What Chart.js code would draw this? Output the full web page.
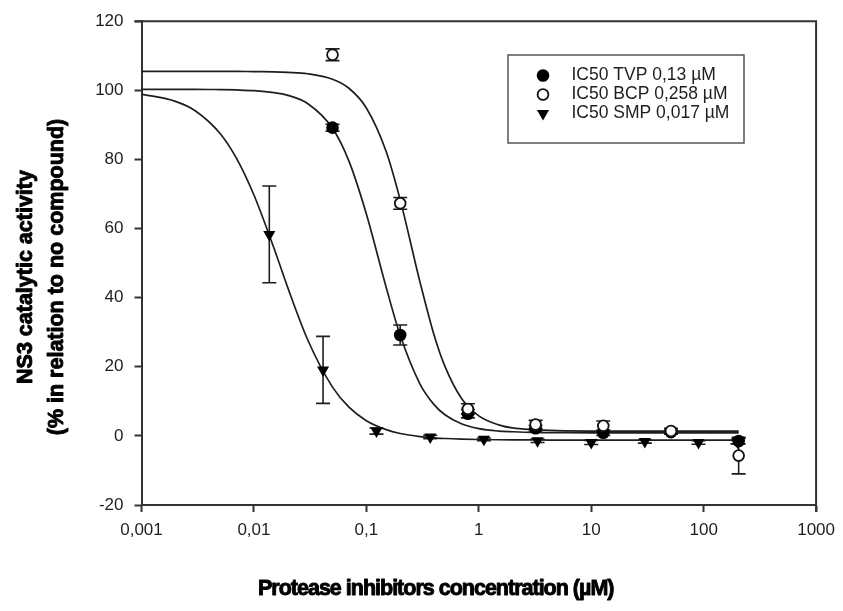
<!DOCTYPE html>
<html><head><meta charset="utf-8">
<script src="https://cdn.jsdelivr.net/npm/chart.js@4.4.0/dist/chart.umd.min.js"></script>
<style>html,body{margin:0;padding:0;background:#fff;}#wrap{width:843px;height:611px;position:relative;}</style>
</head><body><div id="wrap"><canvas id="c" width="843" height="611"></canvas></div>
<script>
// ---- data ----
const legendLabels = ['IC50 TVP 0,13 µM', 'IC50 BCP 0,258 µM', 'IC50 SMP 0,017 µM'];
const xTickValues = [0.001, 0.01, 0.1, 1, 10, 100, 1000];
const xTickLabels = ['0,001', '0,01', '0,1', '1', '10', '100', '1000'];
const xTitle = 'Protease inhibitors concentration (µM)';
const yTitle = ['NS3 catalytic activity', '(% in relation to no compound)'];

// measured points (concentration µM, % activity, error)
const tvpX   = [0.05, 0.2, 0.8, 3.2, 12.8, 51.2, 204.8];
const tvpY   = [89.2, 29.2, 6.4, 2.2, 0.9, 1.1, -1.5];
const tvpErr = [1.0, 2.9, 1.2, 0.8, 0.8, 0.6, 0.8];

const bcpX   = [0.05, 0.2, 0.8, 3.2, 12.8, 51.2, 204.8];
const bcpY   = [110.3, 67.3, 7.8, 3.3, 2.9, 1.4, -5.7];
const bcpErr = [1.7, 1.7, 1.5, 1.2, 1.4, 0.8, 5.3];

const smpX   = [0.0137, 0.0412, 0.123, 0.37, 1.11, 3.33, 10, 30, 90, 200];
const smpY   = [58.3, 19.1, 1.4, -0.3, -1.0, -1.4, -1.9, -1.6, -1.9, -1.8];
const smpErr = [14.0, 9.7, 0.9, 0.5, 0.4, 0.5, 0.6, 0.5, 0.5, 0.5];

// fitted curves
const curveX   = [0.001, 0.002, 0.003, 0.005, 0.007, 0.01, 0.015, 0.02, 0.03, 0.05, 0.07, 0.1, 0.15, 0.2, 0.3, 0.4, 0.5, 0.7, 1, 1.5, 2, 3, 5, 10, 20, 50, 100, 205];
const tvpCurve = [100.3, 100.3, 100.3, 100.2, 100.1, 99.9, 99.35, 98.55, 96.2, 89.0, 79.5, 64.2, 43.0, 29.1, 15.0, 9.05, 6.1, 3.5, 2.1, 1.4, 1.2, 1.0, 0.95, 0.9, 0.9, 0.9, 0.9, 0.9];
const bcpCurve = [105.5, 105.5, 105.5, 105.5, 105.5, 105.4, 105.35, 105.2, 104.8, 103.2, 100.6, 94.9, 82.3, 68.3, 44.5, 29.2, 20.1, 10.9, 5.8, 3.2, 2.3, 1.8, 1.5, 1.4, 1.4, 1.4, 1.4, 1.4];
const smpCurve = [98.9, 96.8, 94.1, 87.5, 80.3, 69.7, 54.5, 42.9, 27.9, 14.1, 8.3, 4.4, 1.8, 0.7, -0.2, -0.55, -0.75, -0.94, -1.05, -1.12, -1.15, -1.18, -1.2, -1.2, -1.2, -1.2, -1.2, -1.2];

// ---- chart ----
const pts = (xs, ys) => xs.map((x, i) => ({x: x, y: ys[i]}));
const INK = '#1e1e1e';
const AXIS = '#333';

const errorBars = {
  id: 'errorBars',
  beforeDatasetsDraw(chart) {
    const ctx = chart.ctx, xs = chart.scales.x, ys = chart.scales.y;
    ctx.save();
    ctx.strokeStyle = INK; ctx.lineWidth = 1.6;
    chart.data.datasets.forEach(ds => {
      if (!ds.errors) return;
      ds.data.forEach((p, i) => {
        const e = ds.errors[i];
        const px = xs.getPixelForValue(p.x);
        const y1 = ys.getPixelForValue(p.y + e), y2 = ys.getPixelForValue(p.y - e);
        ctx.beginPath();
        ctx.moveTo(px, y1); ctx.lineTo(px, y2);
        ctx.moveTo(px - 7, y1); ctx.lineTo(px + 7, y1);
        ctx.moveTo(px - 7, y2); ctx.lineTo(px + 7, y2);
        ctx.stroke();
      });
    });
    ctx.restore();
  }
};

function marker(ctx, style, x, y) {
  ctx.beginPath();
  if (style === 'filled') { ctx.arc(x, y, 6.3, 0, Math.PI * 2); ctx.fillStyle = '#000'; ctx.fill(); }
  else if (style === 'open') { ctx.arc(x, y, 5.4, 0, Math.PI * 2); ctx.fillStyle = '#fff'; ctx.fill(); ctx.lineWidth = 1.8; ctx.strokeStyle = '#111'; ctx.stroke(); }
  else { const r = 7; ctx.moveTo(x - r * 0.866, y - r * 0.5); ctx.lineTo(x + r * 0.866, y - r * 0.5); ctx.lineTo(x, y + r); ctx.closePath(); ctx.fillStyle = '#000'; ctx.fill(); }
}

function heavyText(ctx, t, x, y) {
  ctx.fillText(t, x, y);
  ctx.strokeText(t, x, y);
}

const decor = {
  id: 'decor',
  afterDraw(chart) {
    const ctx = chart.ctx, a = chart.chartArea;
    ctx.save();
    // frame top / right
    ctx.strokeStyle = AXIS; ctx.lineWidth = 2;
    ctx.beginPath();
    ctx.moveTo(a.left - 7, a.top); ctx.lineTo(a.right, a.top); ctx.lineTo(a.right, a.bottom + 7);
    ctx.stroke();
    // legend box
    const bx = 508, by = 55, bw = 236, bh = 88;
    ctx.fillStyle = '#fff'; ctx.fillRect(bx, by, bw, bh);
    ctx.lineWidth = 1.5; ctx.strokeStyle = '#555'; ctx.strokeRect(bx, by, bw, bh);
    const styles = ['filled', 'open', 'tri'];
    ctx.font = '17.5px "Liberation Sans", Arial, sans-serif';
    ctx.textBaseline = 'middle'; ctx.textAlign = 'left';
    legendLabels.forEach((t, i) => {
      const ry = 75.5 + i * 19;
      marker(ctx, styles[i], 543, ry);
      ctx.fillStyle = INK; ctx.fillText(t, 571.5, ry);
    });
    // axis titles (heavy bold)
    ctx.fillStyle = '#000'; ctx.strokeStyle = '#000'; ctx.lineWidth = 0.9; ctx.lineJoin = 'round';
    ctx.font = 'bold 21.5px "Liberation Sans", Arial, sans-serif';
    ctx.textAlign = 'center'; ctx.textBaseline = 'middle';
    [26, 57].forEach((lx, i) => {
      ctx.save(); ctx.translate(lx, 277); ctx.rotate(-Math.PI / 2);
      heavyText(ctx, yTitle[i], 0, 0); ctx.restore();
    });
    ctx.font = 'bold 21.5px "Liberation Sans", Arial, sans-serif';
    if ('letterSpacing' in ctx) ctx.letterSpacing = '-1px';
    ctx.textAlign = 'left';
    heavyText(ctx, xTitle, 258, 589);
    ctx.restore();
  }
};

new Chart(document.getElementById('c'), {
  type: 'scatter',
  data: {
    datasets: [
      { label: 'TVP fit', data: pts(curveX, tvpCurve), showLine: true, pointRadius: 0, borderColor: INK, borderWidth: 1.7, cubicInterpolationMode: 'monotone', order: 10 },
      { label: 'BCP fit', data: pts(curveX, bcpCurve), showLine: true, pointRadius: 0, borderColor: INK, borderWidth: 1.7, cubicInterpolationMode: 'monotone', order: 11 },
      { label: 'SMP fit', data: pts(curveX, smpCurve), showLine: true, pointRadius: 0, borderColor: INK, borderWidth: 1.7, cubicInterpolationMode: 'monotone', order: 12 },
      { label: legendLabels[2], data: pts(smpX, smpY), errors: smpErr, pointStyle: 'triangle', rotation: 180, pointRadius: 7, backgroundColor: '#000', borderColor: '#000', borderWidth: 0, order: 3 },
      { label: legendLabels[0], data: pts(tvpX, tvpY), errors: tvpErr, pointStyle: 'circle', pointRadius: 6.3, backgroundColor: '#000', borderColor: '#000', borderWidth: 0, order: 2 },
      { label: legendLabels[1], data: pts(bcpX, bcpY), errors: bcpErr, pointStyle: 'circle', pointRadius: 5.4, backgroundColor: '#fff', borderColor: '#111', borderWidth: 1.8, order: 1 }
    ]
  },
  options: {
    responsive: false, animation: false, devicePixelRatio: 1,
    layout: { padding: { left: 0, right: 24, top: 17, bottom: 0 } },
    plugins: { legend: { display: false }, tooltip: { enabled: false } },
    scales: {
      x: {
        type: 'logarithmic', position: 'bottom', min: 0.001, max: 1000,
        afterBuildTicks: s => { s.ticks = xTickValues.map(v => ({ value: v })); },
        afterFit: s => { s.height = 106; },
        ticks: {
          autoSkip: false, maxRotation: 0, padding: 8, color: INK,
          font: { family: '"Liberation Sans", Arial, sans-serif', size: 17 },
          callback: v => { const i = xTickValues.findIndex(t => Math.abs(Math.log10(t) - Math.log10(v)) < 1e-6); return i >= 0 ? xTickLabels[i] : ''; }
        },
        grid: { display: true, drawOnChartArea: false, drawTicks: true, tickLength: 7, tickWidth: 2, tickColor: AXIS },
        border: { display: true, color: AXIS, width: 2 }
      },
      y: {
        type: 'linear', min: -20, max: 120,
        afterFit: s => { s.width = 141.5; },
        ticks: { stepSize: 20, padding: 11, color: INK, font: { family: '"Liberation Sans", Arial, sans-serif', size: 17 } },
        grid: { display: true, drawOnChartArea: false, drawTicks: true, tickLength: 7, tickWidth: 2, tickColor: AXIS },
        border: { display: true, color: AXIS, width: 2 }
      }
    }
  },
  plugins: [errorBars, decor]
});
</script></body></html>
